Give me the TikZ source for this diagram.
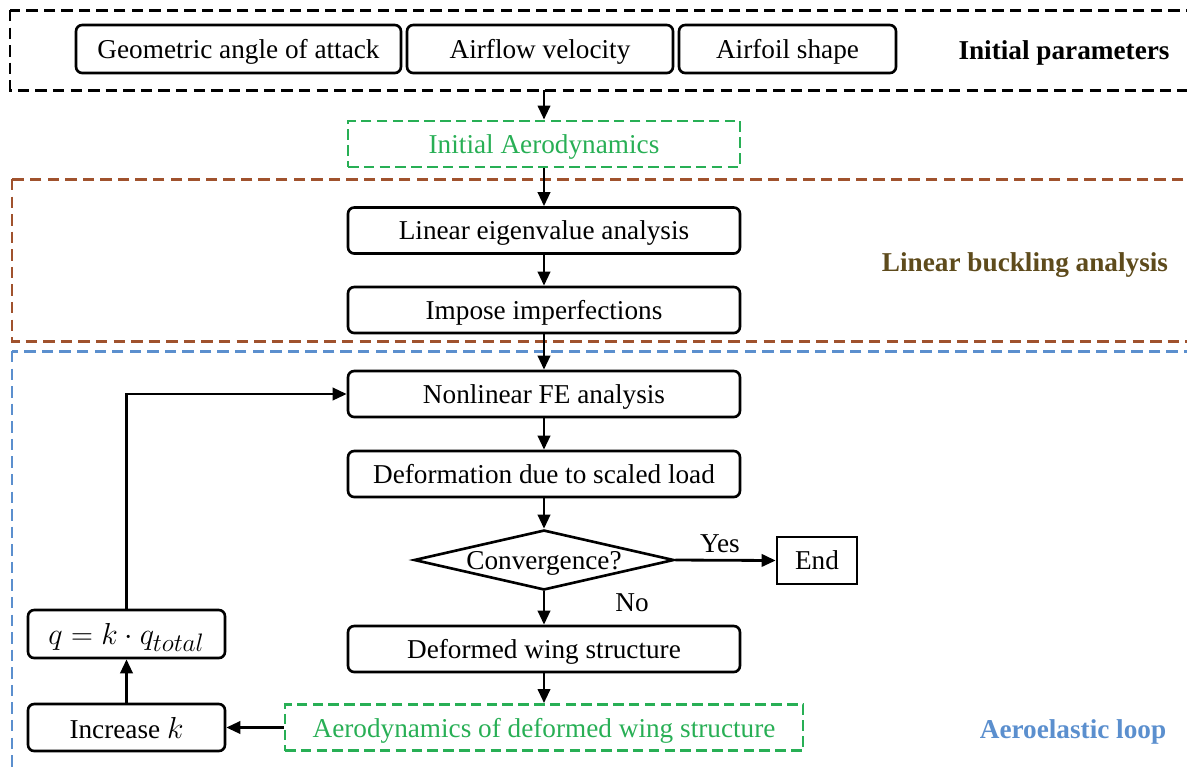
\documentclass[tikz,border=0pt]{standalone}
\usepackage{fontspec}
\setmainfont{Liberation Serif}
\usetikzlibrary{arrows.meta,shapes.geometric}
\definecolor{aerogreen}{RGB}{40,175,85}
\definecolor{buckbrown}{RGB}{160,82,45}
\definecolor{buckolive}{RGB}{94,75,28}
\definecolor{loopblue}{RGB}{91,143,206}
\begin{document}
\begin{tikzpicture}[x=0.02cm, y=-0.02cm, font=\fontsize{15.5}{18}\selectfont,
        every node/.style={inner sep=0pt, text depth=0pt},
        proc/.style={draw, rounded corners=3.5pt, line width=1.5pt, minimum width=7.84cm, minimum height=0.92cm},
        aero/.style={draw=aerogreen, text=aerogreen, dash pattern=on 6pt off 3pt, line width=1.6pt, minimum height=0.92cm},
        group/.style={dash pattern=on 6.5pt off 3.5pt, line width=1.7pt},
        grouplabel/.style={font=\fontsize{15.5}{18}\selectfont\bfseries},
        bigmath/.style={font=\fontsize{19}{22}\selectfont},
        flow/.style={-{Triangle[length=8pt,width=7pt]}, line width=1.6pt}]
        \clip (0,0) rectangle (1187,769);
        % group frames
        \draw[group] (10,10) rectangle (1200,90);
        \draw[group, buckbrown] (12,179) rectangle (1200,341);
        \draw[group, loopblue] (12,351) rectangle (1200,800);
        \coordinate (top) at (544,90);
        % initial parameters
        \node[proc, minimum width=6.5cm, minimum height=0.96cm] (geo) at (238.5,49) {Geometric angle of attack};
        \node[proc, minimum width=5.32cm, minimum height=0.96cm] (vel) at (540,49) {Airflow velocity};
        \node[proc, minimum width=4.34cm, minimum height=0.96cm] (shape) at (787.5,49) {Airfoil shape};
        \node[grouplabel] (initlabel) at (1064,50) {Initial parameters};
        % main column
        \node[aero, minimum width=7.84cm] (init) at (544,144) {Initial Aerodynamics};
        \node[proc] (eig) at (544,230.5) {Linear eigenvalue analysis};
        \node[proc] (imp) at (544,310) {Impose imperfections};
        \node[grouplabel, text=buckolive] (bucklabel) at (1025,262) {Linear buckling analysis};
        \node[proc] (nfe) at (544,394) {Nonlinear FE analysis};
        \node[proc] (defo) at (544,474) {Deformation due to scaled load};
        \node[draw, diamond, aspect=4.3, line width=1.5pt, minimum width=5.2cm, minimum height=1.2cm] (conv) at (544,560) {Convergence?};
        \node[draw, line width=1.5pt, minimum width=1.6cm, minimum height=0.94cm] (end) at (817,560.5) {End};
        \node (yes) at (720,544) {Yes};
        \node (no) at (632,603) {No};
        \node[proc] (wing) at (544,649) {Deformed wing structure};
        \node[aero, minimum width=10.36cm] (aerodef) at (544,727.5) {Aerodynamics of deformed wing structure};
        % load scaling
        \node[proc, minimum width=3.94cm, minimum height=0.94cm] (inck) at (126.5,727.5) {Increase {\fontsize{19}{22}\selectfont\(k\)}};
        \node[proc, bigmath, minimum width=3.94cm, minimum height=0.96cm] (qk) at (126.5,634) {\(q = k\cdot q_{total}\)};
        \node[grouplabel, text=loopblue] (looplabel) at (1073,729) {Aeroelastic loop};
        % connectors
        \draw[flow] (top) -- (init);
        \foreach \a/\b in {init/eig, eig/imp, imp/nfe, nfe/defo, defo/conv, conv/wing, wing/aerodef, aerodef/inck, inck/qk}
            \draw[flow] (\a) -- (\b);
        \draw[flow] (conv.east) -- (end.west);
        \draw[flow] (qk.north) |- (nfe.west);
\end{tikzpicture}
\end{document}
